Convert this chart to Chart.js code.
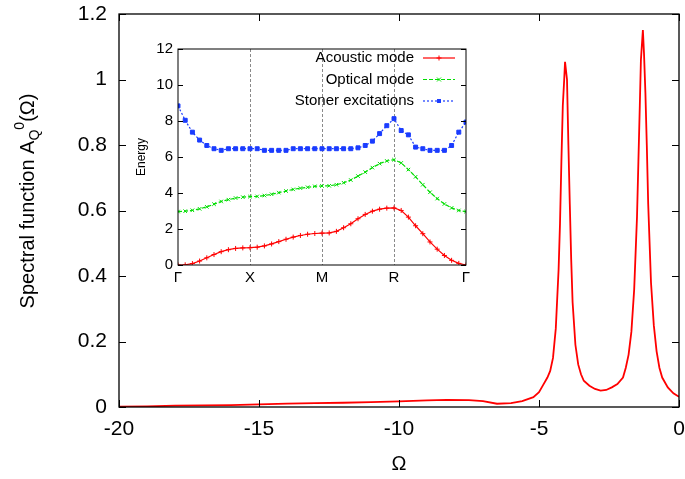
<!DOCTYPE html>
<html>
<head>
<meta charset="utf-8">
<title>Spectral function</title>
<script src="https://cdn.jsdelivr.net/npm/chart.js@4.4.1/dist/chart.umd.min.js"></script>
<style>
  body { margin: 0; background: #fff; }
  #wrap { position: relative; width: 685px; height: 479px; overflow: hidden; }
  #mainChart { position: absolute; left: 0; top: 0; }
  #insetChart { position: absolute; left: 130px; top: 35px; }
</style>
</head>
<body>
<div id="wrap">
  <canvas id="mainChart" width="685" height="479"></canvas>
  <canvas id="insetChart" width="345" height="260"></canvas>
</div>
<script>
// Main curve: spectral function vs Omega
const omega = [-20, -19, -18, -17, -16, -15, -14, -13, -12, -11, -10, -9, -8.3, -7.5, -7, -6.5, -6, -5.6, -5.2,
  -5.0, -4.86, -4.7, -4.6, -4.5, -4.4, -4.3, -4.25, -4.2, -4.15, -4.1, -4.07, -4.0, -3.95, -3.9, -3.85, -3.8,
  -3.7, -3.6, -3.5, -3.4, -3.2, -3.0, -2.8, -2.6, -2.4, -2.2, -2.0, -1.9, -1.8, -1.7, -1.6, -1.5, -1.45, -1.4,
  -1.36, -1.29, -1.25, -1.2, -1.15, -1.1, -1.0, -0.9, -0.8, -0.7, -0.6, -0.4, -0.2, 0];
const spectral = [0.001, 0.002, 0.004, 0.005, 0.006, 0.008, 0.010, 0.012, 0.013, 0.015, 0.017, 0.020, 0.022, 0.021, 0.018, 0.010, 0.012, 0.018, 0.030,
  0.045, 0.066, 0.09, 0.11, 0.15, 0.24, 0.42, 0.56, 0.75, 0.92, 1.0, 1.054, 1.0, 0.8, 0.62, 0.45, 0.32,
  0.19, 0.13, 0.10, 0.08, 0.065, 0.055, 0.05, 0.052, 0.06, 0.07, 0.09, 0.12, 0.16, 0.23, 0.36, 0.58, 0.75, 0.92,
  1.06, 1.151, 1.08, 0.96, 0.8, 0.62, 0.38, 0.25, 0.17, 0.12, 0.09, 0.06, 0.042, 0.031];

// Inset: dispersion along Γ-X-M-R-Γ
const symLabels = ['Γ', 'X', 'M', 'R', 'Γ'];
const symIndex = [0, 10, 20, 30, 40];
const acoustic = [0, 0.01, 0.08, 0.22, 0.4, 0.58, 0.74, 0.85, 0.92, 0.95,
  0.96, 0.99, 1.06, 1.17, 1.3, 1.43, 1.55, 1.64, 1.71, 1.75,
  1.77, 1.78, 1.87, 2.07, 2.29, 2.57, 2.81, 2.99, 3.1, 3.16,
  3.17, 3.03, 2.66, 2.18, 1.74, 1.28, 0.88, 0.53, 0.26, 0.09, 0];
const optical = [2.97, 2.99, 3.04, 3.12, 3.23, 3.38, 3.53, 3.63, 3.72, 3.77,
  3.8, 3.81, 3.86, 3.93, 4.02, 4.11, 4.2, 4.27, 4.32, 4.37,
  4.39, 4.4, 4.46, 4.57, 4.72, 4.94, 5.16, 5.41, 5.63, 5.78,
  5.85, 5.67, 5.3, 4.9, 4.46, 4.04, 3.69, 3.39, 3.17, 3.03, 2.97];
const stoner = [8.84, 8.04, 7.38, 6.94, 6.64, 6.46, 6.37, 6.46, 6.46, 6.46,
  6.46, 6.46, 6.37, 6.37, 6.37, 6.37, 6.46, 6.46, 6.46, 6.46,
  6.46, 6.46, 6.46, 6.46, 6.46, 6.51, 6.64, 6.88, 7.3, 7.74,
  8.13, 7.47, 7.23, 6.55, 6.46, 6.37, 6.37, 6.37, 6.64, 7.38, 7.94];
const seriesNames = ['Acoustic mode', 'Optical mode', 'Stoner excitations'];

const FONT = "'Liberation Sans', Arial, sans-serif";

function line(ctx, x1, y1, x2, y2) {
  ctx.beginPath();
  ctx.moveTo(x1, y1);
  ctx.lineTo(x2, y2);
  ctx.stroke();
}

function marker(ctx, style, x, y, r, color) {
  ctx.save();
  ctx.strokeStyle = color;
  ctx.fillStyle = color;
  ctx.lineWidth = 1;
  if (style === 'cross') {
    line(ctx, x - r, y, x + r, y);
    line(ctx, x, y - r, x, y + r);
  } else if (style === 'crossRot') {
    line(ctx, x - r * 0.8, y - r * 0.8, x + r * 0.8, y + r * 0.8);
    line(ctx, x - r * 0.8, y + r * 0.8, x + r * 0.8, y - r * 0.8);
  } else {
    const s = r * Math.SQRT1_2;
    ctx.fillRect(x - s, y - s, 2 * s, 2 * s);
  }
  ctx.restore();
}

// Frame, inward ticks and y title of the main plot
const mainFrame = {
  id: 'mainFrame',
  afterDraw(chart) {
    const { ctx, chartArea: a, scales: { x, y } } = chart;
    ctx.save();
    ctx.strokeStyle = '#000';
    ctx.lineWidth = 1;
    x.ticks.forEach(t => {
      const px = Math.round(x.getPixelForValue(t.value)) + 0.5;
      line(ctx, px, a.bottom, px, a.bottom - 7);
      line(ctx, px, a.top, px, a.top + 7);
    });
    y.ticks.forEach(t => {
      const py = Math.round(y.getPixelForValue(t.value)) + 0.5;
      line(ctx, a.left, py, a.left + 7, py);
      line(ctx, a.right, py, a.right - 7, py);
    });
    ctx.lineWidth = 1.3;
    ctx.strokeRect(a.left, a.top, a.right - a.left, a.bottom - a.top);

    // Spectral function A_Q^0(Ω)
    const parts = [
      { t: 'Spectral function A', size: 20, dy: 0 },
      { t: 'Q', size: 14, dy: 5 },
      { t: '0', size: 14, dy: -10 },
      { t: '(Ω)', size: 20, dy: 0 }
    ];
    let total = 0;
    parts.forEach(p => {
      ctx.font = p.size + 'px ' + FONT;
      p.w = ctx.measureText(p.t).width;
      total += p.w;
    });
    ctx.translate(34, 201 + total / 2);
    ctx.rotate(-Math.PI / 2);
    ctx.fillStyle = '#000';
    ctx.textBaseline = 'alphabetic';
    let cx = 0;
    parts.forEach(p => {
      ctx.font = p.size + 'px ' + FONT;
      ctx.fillText(p.t, cx, p.dy);
      cx += p.w;
    });
    ctx.restore();
  }
};

// Main chart
new Chart(document.getElementById('mainChart'), {
  type: 'line',
  data: {
    datasets: [{
      data: omega.map((o, i) => ({ x: o, y: spectral[i] })),
      borderColor: '#ff0000',
      borderWidth: 1.8,
      pointRadius: 0,
      tension: 0,
      fill: false
    }]
  },
  options: {
    responsive: false,
    animation: false,
    devicePixelRatio: 1,
    layout: { padding: { top: 14, right: 6, left: 0, bottom: 0 } },
    plugins: { legend: { display: false }, tooltip: { enabled: false } },
    scales: {
      x: {
        type: 'linear',
        min: -20,
        max: 0,
        grid: { display: false, drawTicks: false },
        border: { display: false },
        ticks: { stepSize: 5, color: '#000', padding: 10, font: { family: FONT, size: 21 } },
        title: { display: true, text: 'Ω', color: '#000', font: { family: FONT, size: 20 }, padding: { top: 0, bottom: 3 } },
        afterFit(scale) {
          scale.height = 72;
          scale.paddingLeft = 0;
          scale.paddingRight = 0;
        }
      },
      y: {
        min: 0,
        max: 1.2,
        grid: { display: false, drawTicks: false },
        border: { display: false },
        ticks: {
          stepSize: 0.2,
          color: '#000',
          padding: 12,
          font: { family: FONT, size: 21 },
          callback: v => String(Number(v.toFixed(1)))
        },
        afterFit(scale) {
          scale.width = 119;
          scale.paddingTop = 0;
          scale.paddingBottom = 0;
        }
      }
    }
  },
  plugins: [mainFrame]
});

// Inset frame, dashed symmetry lines, legend
const insetFrame = {
  id: 'insetFrame',
  beforeDatasetsDraw(chart) {
    const { ctx, chartArea: a, scales: { x } } = chart;
    ctx.save();
    ctx.strokeStyle = '#8a8a8a';
    ctx.lineWidth = 1;
    ctx.setLineDash([3, 2]);
    symIndex.slice(1, -1).forEach(v => {
      const px = Math.round(x.getPixelForValue(v)) + 0.5;
      line(ctx, px, a.top, px, a.bottom);
    });
    ctx.restore();
  },
  afterDraw(chart) {
    const { ctx, chartArea: a, scales: { y } } = chart;
    ctx.save();
    ctx.strokeStyle = '#000';
    ctx.lineWidth = 1;
    y.ticks.forEach(t => {
      const py = Math.round(y.getPixelForValue(t.value)) + 0.5;
      line(ctx, a.left, py, a.left + 5, py);
      line(ctx, a.right, py, a.right - 5, py);
    });
    ctx.strokeRect(a.left, a.top, a.right - a.left, a.bottom - a.top);

    // legend, top right inside the frame
    ctx.font = '15px ' + FONT;
    ctx.textAlign = 'right';
    ctx.textBaseline = 'middle';
    chart.data.datasets.forEach((ds, i) => {
      const ly = a.top + 9 + i * 21.5;
      ctx.fillStyle = '#000';
      ctx.fillText(ds.label, a.right - 52, ly);
      ctx.strokeStyle = ds.borderColor;
      ctx.lineWidth = 1.2;
      ctx.setLineDash(ds.borderDash || []);
      line(ctx, a.right - 43, ly, a.right - 11, ly);
      ctx.setLineDash([]);
      marker(ctx, ds.pointStyle, a.right - 27, ly, ds.pointRadius, ds.pointBackgroundColor);
    });

    // Energy
    ctx.translate(12, (a.top + a.bottom) / 2);
    ctx.rotate(-Math.PI / 2);
    ctx.font = '12px ' + FONT;
    ctx.textAlign = 'center';
    ctx.fillStyle = '#000';
    ctx.fillText('Energy', 0, 0);
    ctx.restore();
  }
};

const insetColors = ['#ff0000', '#00dd00', '#1a3cff'];
const insetDash = [[], [4, 2], [2, 2]];
const insetPoints = ['cross', 'crossRot', 'rect'];

new Chart(document.getElementById('insetChart'), {
  type: 'line',
  data: {
    datasets: [acoustic, optical, stoner].map((vals, k) => ({
      label: seriesNames[k],
      data: vals.map((v, i) => ({ x: i, y: v })),
      borderColor: insetColors[k],
      borderWidth: 1.2,
      borderDash: insetDash[k],
      pointStyle: insetPoints[k],
      pointRadius: k === 2 ? 2.8 : 2.5,
      pointBorderWidth: 1,
      pointBorderColor: insetColors[k],
      pointBackgroundColor: insetColors[k],
      tension: 0,
      fill: false
    }))
  },
  options: {
    responsive: false,
    animation: false,
    devicePixelRatio: 1,
    layout: { padding: { top: 12, right: 9, left: 0, bottom: 0 } },
    plugins: { legend: { display: false }, tooltip: { enabled: false } },
    scales: {
      x: {
        type: 'linear',
        min: 0,
        max: 40,
        grid: { display: false, drawTicks: false },
        border: { display: false },
        ticks: {
          stepSize: 10,
          color: '#000',
          padding: 4,
          font: { family: FONT, size: 15 },
          callback: v => symLabels[symIndex.indexOf(v)] || ''
        },
        afterFit(scale) { scale.height = 30; }
      },
      y: {
        min: 0,
        max: 12,
        grid: { display: false, drawTicks: false },
        border: { display: false },
        ticks: { stepSize: 2, color: '#000', padding: 5, font: { family: FONT, size: 15 } },
        afterFit(scale) { scale.width = 48; }
      }
    }
  },
  plugins: [insetFrame]
});
</script>
</body>
</html>
